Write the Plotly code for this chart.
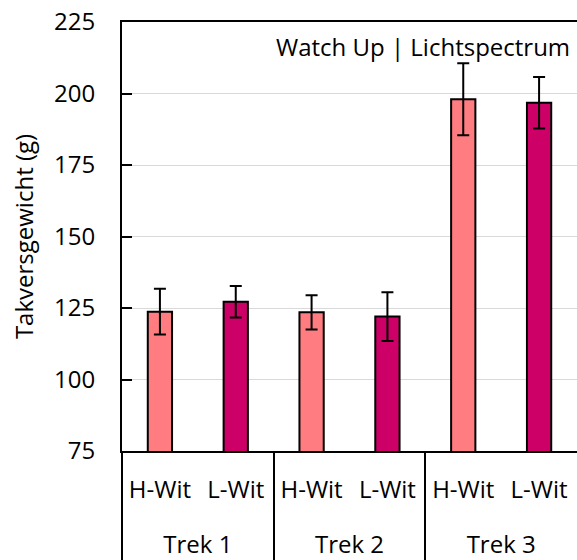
import plotly.graph_objects as go

treks = ["Trek 1", "Trek 2", "Trek 3"]
lights = ["H-Wit", "L-Wit"]
h_wit = [123.7, 123.5, 198.0]
h_err = [8.0, 6.0, 12.6]
l_wit = [127.2, 122.0, 196.8]
l_err = [5.5, 8.5, 9.0]
y_ticks = [75, 100, 125, 150, 175, 200, 225]

font = "Open Sans"
fs = 24

n_l = len(lights)
# category slot indices derived from the group structure
h_pos = [i * n_l + 0 for i in range(len(treks))]
l_pos = [i * n_l + 1 for i in range(len(treks))]
inner_vals = list(range(len(treks) * n_l))
inner_text = [lights[k % n_l] for k in inner_vals]
group_centers = [i * n_l + (n_l - 1) / 2 for i in range(len(treks))]
group_edges = [i * n_l - 0.5 for i in range(len(treks))]
x_range = [-0.5, len(treks) * n_l - 0.5]

fig = go.Figure()
fig.add_trace(go.Bar(
    x=h_pos, y=h_wit,
    marker=dict(color="#FF7C80", line=dict(color="black", width=2)),
    width=0.32,
    error_y=dict(type="data", array=h_err, color="black", thickness=2, width=6),
    name="H-Wit", showlegend=False,
))
fig.add_trace(go.Bar(
    x=l_pos, y=l_wit,
    marker=dict(color="#CC0066", line=dict(color="black", width=2)),
    width=0.32,
    error_y=dict(type="data", array=l_err, color="black", thickness=2, width=6),
    name="L-Wit", showlegend=False,
))

fig.update_layout(
    width=577, height=560,
    margin=dict(l=122, r=0, t=22, b=109),
    plot_bgcolor="white", paper_bgcolor="white",
    barmode="overlay",
    font=dict(family=font, size=fs, color="black"),
    annotations=[dict(
        text="Watch Up | Lichtspectrum", xref="paper", yref="paper",
        x=0.99, y=0.985, xanchor="right", yanchor="top", showarrow=False,
        font=dict(family=font, size=fs, color="black"),
    )],
    xaxis=dict(
        range=x_range, tickvals=inner_vals, ticktext=inner_text,
        showline=True, linecolor="black", linewidth=2, mirror=True,
        showgrid=False, zeroline=False, ticks="", ticklabelstandoff=16,
        tickfont=dict(family=font, size=fs, color="black"),
    ),
    xaxis2=dict(
        range=x_range, overlaying="x", anchor="y", side="bottom",
        tickvals=group_edges, ticktext=[""] * len(group_edges),
        ticks="outside", ticklen=110, tickwidth=1.5, tickcolor="black",
        showgrid=False, zeroline=False, showline=False,
    ),
    xaxis3=dict(
        range=x_range, overlaying="x", anchor="y", side="bottom",
        tickvals=group_centers, ticktext=treks,
        ticks="", ticklabelstandoff=77,
        showgrid=False, zeroline=False, showline=False,
        tickfont=dict(family=font, size=fs, color="black"),
    ),
    yaxis=dict(
        range=[75, 225], tickvals=y_ticks,
        showline=True, linecolor="black", linewidth=2,
        ticks="inside", ticklen=10, tickwidth=1.5, tickcolor="black",
        showgrid=True, gridcolor="#D9D9D9", gridwidth=1,
        zeroline=False, ticklabelstandoff=20,
        title=dict(text="Takversgewicht (g)", font=dict(family=font, size=fs), standoff=14),
        tickfont=dict(family=font, size=fs, color="black"),
    ),
)
# invisible helper traces so the overlay axes are drawn
fig.add_trace(go.Scatter(x=[None], y=[None], xaxis="x2", yaxis="y", showlegend=False, hoverinfo="skip"))
fig.add_trace(go.Scatter(x=[None], y=[None], xaxis="x3", yaxis="y", showlegend=False, hoverinfo="skip"))

fig.write_html("out.html")
